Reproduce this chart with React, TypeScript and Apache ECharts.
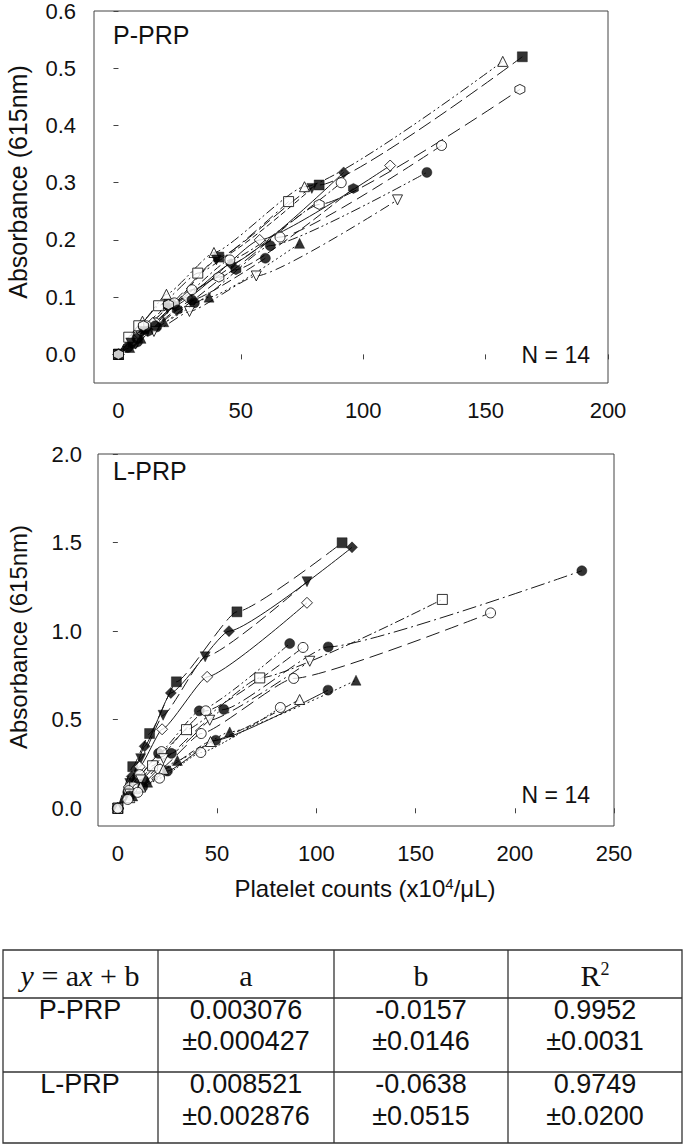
import React, { useEffect, useRef } from "react";
import * as echarts from "echarts";

// ---------- tick labels ----------
const P_X_TICKS = [0, 50, 100, 150, 200];
const P_Y_TICKS = [0, 0.1, 0.2, 0.3, 0.4, 0.5, 0.6];
const L_X_TICKS = [0, 50, 100, 150, 200, 250];
const L_Y_TICKS = [0, 0.5, 1.0, 1.5, 2.0];

// ---------- P-PRP data (14 donors, dilution series) ----------
const P_X = [
  [0, 10.3, 20.6, 41, 82, 165],
  [0, 9.8, 19.6, 39, 76, 157],
  [0, 7.5, 15, 30, 66, 132],
  [0, 7.8, 15.6, 31, 62, 126],
  [0, 7, 14, 28, 57.7, 111],
  [0, 7, 14.5, 29, 56.3, 114],
  [0, 5.8, 11.5, 23, 46, 92],
  [0, 5.7, 11.4, 22.8, 45.5, 91],
  [0, 6, 12, 24, 48, 96],
  [0, 4.2, 8.3, 16.4, 32.4, 69.5],
  [0, 4.6, 9.2, 18.5, 37, 74],
  [0, 3.8, 7.5, 15, 30, 60],
  [0, 5, 10, 20, 40, 79],
  [0, 10.2, 20.4, 41, 82, 164],
];
const P_Y = [
  [0, 0.045, 0.088, 0.17, 0.296, 0.52],
  [0, 0.058, 0.105, 0.178, 0.293, 0.512],
  [0, 0.03, 0.055, 0.113, 0.205, 0.365],
  [0, 0.022, 0.048, 0.09, 0.19, 0.318],
  [0, 0.03, 0.055, 0.1, 0.2, 0.33],
  [0, 0.018, 0.04, 0.075, 0.137, 0.27],
  [0, 0.02, 0.045, 0.085, 0.158, 0.318],
  [0, 0.025, 0.05, 0.09, 0.165, 0.3],
  [0, 0.018, 0.04, 0.078, 0.148, 0.29],
  [0, 0.03, 0.05, 0.085, 0.142, 0.267],
  [0, 0.012, 0.028, 0.057, 0.1, 0.194],
  [0, 0.012, 0.028, 0.05, 0.095, 0.168],
  [0, 0.02, 0.04, 0.08, 0.165, 0.29],
  [0, 0.05, 0.087, 0.135, 0.262, 0.463],
];

// ---------- L-PRP data ----------
const L_X = [
  [0, 7.5, 16, 29.5, 60, 113],
  [0, 7, 13.5, 26.7, 56, 118],
  [0, 6, 11.5, 22.8, 44, 95.3],
  [0, 5.5, 11, 22.3, 45, 95.3],
  [0, 13, 27, 53.4, 106, 233.8],
  [0, 8.5, 17.5, 34.6, 71.5, 163.5],
  [0, 10, 21, 42, 88.6, 187.8],
  [0, 5, 10, 20.5, 41, 86.6],
  [0, 5.5, 11, 22, 44.3, 93.3],
  [0, 6, 11.5, 23, 46.3, 96.7],
  [0, 7.5, 15, 30, 56.4, 120],
  [0, 6, 12.5, 25, 49.3, 105.9],
  [0, 6, 11.5, 23, 46.7, 91.6],
  [0, 5, 10, 21, 41.8, 81.9],
];
const L_Y = [
  [0, 0.235, 0.422, 0.714, 1.109, 1.499],
  [0, 0.18, 0.35, 0.651, 1.0, 1.473],
  [0, 0.14, 0.28, 0.525, 0.855, 1.279],
  [0, 0.12, 0.235, 0.446, 0.742, 1.16],
  [0, 0.16, 0.31, 0.558, 0.911, 1.341],
  [0, 0.12, 0.24, 0.444, 0.736, 1.179],
  [0, 0.11, 0.22, 0.422, 0.733, 1.103],
  [0, 0.09, 0.17, 0.31, 0.55, 0.93],
  [0, 0.1, 0.19, 0.32, 0.55, 0.908],
  [0, 0.08, 0.16, 0.28, 0.497, 0.83],
  [0, 0.07, 0.147, 0.27, 0.431, 0.723],
  [0, 0.07, 0.12, 0.21, 0.384, 0.667],
  [0, 0.06, 0.12, 0.22, 0.377, 0.614],
  [0, 0.05, 0.09, 0.17, 0.315, 0.569],
];

// ---------- table ----------
const TABLE_HEAD = ["a", "b"];
const TABLE_ROWS = ["P-PRP", "L-PRP"];
const TABLE_VALUES = [
  ["0.003076", "-0.0157", "0.9952"],
  ["0.008521", "-0.0638", "0.9749"],
];
const TABLE_ERRORS = [
  ["±0.000427", "±0.0146", "±0.0031"],
  ["±0.002876", "±0.0515", "±0.0200"],
];

// ---------- styles ----------
const HEX = "path://M0,-10L8.66,-5L8.66,5L0,10L-8.66,5L-8.66,-5Z";
const TRI_DOWN = "path://M-10,-8.66L10,-8.66L0,8.66Z";
const SQ = "rect";
const CI = "circle";
const TRI = "triangle";
const DI = "diamond";

const P_MARK = [SQ, TRI, CI, CI, DI, TRI_DOWN, DI, CI, HEX, SQ, TRI, CI, TRI_DOWN, HEX];
const P_FILL = [true, false, false, true, false, false, true, false, true, false, true, true, true, false];
const P_DASH: any[] = [
  [14, 5], [10, 3, 2, 3, 2, 3], [12, 6], [10, 3, 2, 3, 2, 3], "solid", [10, 4, 2, 4],
  "solid", [8, 3, 2, 3], [10, 4], [12, 4, 2, 4], [2, 3], [10, 4], [6, 3], [14, 6],
];
const L_MARK = [SQ, DI, TRI_DOWN, DI, CI, SQ, CI, CI, CI, TRI_DOWN, TRI, CI, TRI, CI];
const L_FILL = [true, true, true, false, true, false, false, true, false, false, true, true, false, false];
const L_DASH: any[] = [
  [14, 6], "solid", [12, 5], "solid", [14, 4, 2, 4], [10, 3, 2, 3], [14, 6],
  [8, 3, 2, 3, 2, 3], [10, 4], [12, 4, 2, 4], [2, 3], "solid", [6, 3], [2, 2],
];

const SANS = '"Liberation Sans", Arial, sans-serif';
const SERIF = '"Liberation Serif", "Times New Roman", serif';

function buildSeries(xs: number[][], ys: number[][], marks: string[], fills: boolean[], dashes: any[], idx: number) {
  const lines: any[] = [];
  const points: any[] = [];
  xs.forEach((xArr, i) => {
    const data = xArr.map((x, j) => [x, ys[i][j]]);
    lines.push({
      type: "line",
      xAxisIndex: idx,
      yAxisIndex: idx,
      data,
      smooth: 0.15,
      smoothMonotone: "x",
      showSymbol: false,
      symbol: "none",
      silent: true,
      z: 2,
      lineStyle: { color: "#1a1a1a", width: 1, type: dashes[i] },
    });
    points.push({
      type: "scatter",
      xAxisIndex: idx,
      yAxisIndex: idx,
      data,
      symbol: marks[i],
      symbolSize: marks[i] === DI ? 11 : 10,
      silent: true,
      z: 3,
      itemStyle: fills[i]
        ? { color: "#000", borderColor: "#000", borderWidth: 0.5 }
        : { color: "#fff", borderColor: "#000", borderWidth: 1 },
    });
  });
  return [...lines, ...points];
}

function axisX(gridIndex: number, min: number, max: number, ticks: number[]) {
  return {
    type: "value",
    gridIndex,
    min,
    max,
    axisLine: { show: false },
    splitLine: { show: false },
    axisTick: { show: true, customValues: ticks, length: 5, inside: false, lineStyle: { color: "#444", width: 1 } },
    axisLabel: {
      customValues: ticks,
      fontSize: 22,
      fontFamily: SANS,
      color: "#111",
      margin: 16,
      formatter: (v: number) => String(Math.round(v)),
    },
  };
}

function axisY(gridIndex: number, min: number, max: number, ticks: number[], margin: number) {
  return {
    type: "value",
    gridIndex,
    min,
    max,
    axisLine: { show: false },
    splitLine: { show: false },
    axisTick: { show: true, customValues: ticks, length: 5, inside: false, lineStyle: { color: "#444", width: 1 } },
    axisLabel: {
      customValues: ticks,
      fontSize: 22,
      fontFamily: SANS,
      color: "#111",
      margin,
      formatter: (v: number) => v.toFixed(1),
    },
  };
}

function txt(text: string, x: number, y: number, size: number, align: string, family = SANS, extra: any = {}) {
  return {
    type: "text",
    x,
    y,
    silent: true,
    ...extra,
    style: {
      text,
      fontSize: size,
      fontFamily: family,
      fill: "#111",
      align,
      verticalAlign: "middle",
      textAlign: align,
      textVerticalAlign: "middle",
      ...(extra.style || {}),
    },
  };
}

function richTxt(text: string, x: number, y: number, rich: any, size: number, family: string) {
  return {
    type: "text",
    x,
    y,
    silent: true,
    style: {
      text,
      align: "center",
      verticalAlign: "middle",
      textAlign: "center",
      textVerticalAlign: "middle",
      fill: "#111",
      fontSize: size,
      fontFamily: family,
      rich,
    },
  };
}

function tableGraphics() {
  const els: any[] = [];
  const stroke = { stroke: "#333", lineWidth: 1.3, fill: "none" };
  els.push({ type: "rect", shape: { x: 3, y: 950, width: 679, height: 193 }, style: stroke, silent: true });
  [998, 1072].forEach((y) => els.push({ type: "line", shape: { x1: 3, y1: y, x2: 682, y2: y }, style: stroke, silent: true }));
  [158, 334, 508].forEach((x) => els.push({ type: "line", shape: { x1: x, y1: 950, x2: x, y2: 1143 }, style: stroke, silent: true }));
  const colX = [80, 246, 421, 595];
  const HS = 30;
  els.push(
    richTxt(
      "{i|y}{n| = a}{i|x}{n| + b}",
      colX[0],
      975,
      {
        i: { fontSize: HS, fontFamily: SERIF, fontStyle: "italic", fill: "#111" },
        n: { fontSize: HS, fontFamily: SERIF, fill: "#111" },
      },
      HS,
      SERIF
    )
  );
  els.push(txt(TABLE_HEAD[0], colX[1], 975, HS, "center", SERIF));
  els.push(txt(TABLE_HEAD[1], colX[2], 975, HS, "center", SERIF));
  els.push(
    richTxt(
      "{n|R}{s|2}",
      colX[3],
      975,
      {
        n: { fontSize: HS, fontFamily: SERIF, fill: "#111", verticalAlign: "bottom" },
        s: { fontSize: 18, fontFamily: SERIF, fill: "#111", verticalAlign: "top" },
      },
      HS,
      SERIF
    )
  );
  const rowY = [
    [1010, 1041],
    [1084, 1116],
  ];
  const BS = 27;
  TABLE_ROWS.forEach((name, r) => {
    els.push(txt(name, colX[0], rowY[r][0], BS, "center"));
    TABLE_VALUES[r].forEach((v, c) => {
      els.push(txt(v, colX[c + 1], rowY[r][0], BS, "center"));
      els.push(txt(TABLE_ERRORS[r][c], colX[c + 1], rowY[r][1], BS, "center"));
    });
  });
  return els;
}

export default function App() {
  const ref = useRef<HTMLDivElement>(null);
  useEffect(() => {
    document.body.style.margin = "0";
    if (!ref.current) return;
    const chart = echarts.init(ref.current, null, { renderer: "svg", width: 685, height: 1147 });
    const option: any = {
      animation: false,
      backgroundColor: "#fff",
      grid: [
        { left: 94, top: 11, width: 514, height: 372, show: true, borderColor: "#444", borderWidth: 1, backgroundColor: "transparent" },
        { left: 98, top: 454, width: 516, height: 372, show: true, borderColor: "#444", borderWidth: 1, backgroundColor: "transparent" },
      ],
      xAxis: [axisX(0, -10, 200, P_X_TICKS), axisX(1, -10, 250, L_X_TICKS)],
      yAxis: [axisY(0, -0.05, 0.6, P_Y_TICKS, 18), axisY(1, -0.1, 2.0, L_Y_TICKS, 16)],
      series: [
        ...buildSeries(P_X, P_Y, P_MARK, P_FILL, P_DASH, 0),
        ...buildSeries(L_X, L_Y, L_MARK, L_FILL, L_DASH, 1),
      ],
      graphic: [
        txt("P-PRP", 113, 35, 25, "left"),
        txt("N = 14", 590, 355, 23, "right"),
        txt("L-PRP", 113, 471, 25, "left"),
        txt("N = 14", 590, 795, 23, "right"),
        txt("Absorbance (615nm)", 18, 182, 25, "center", SANS, { rotation: Math.PI / 2 }),
        txt("Absorbance (615nm)", 18, 637, 24, "center", SANS, { rotation: Math.PI / 2 }),
        richTxt(
          "{n|Platelet counts (x10}{s|4}{n|/μL)}",
          365,
          888,
          {
            n: { fontSize: 24, fontFamily: SANS, fill: "#111", verticalAlign: "bottom" },
            s: { fontSize: 15, fontFamily: SANS, fill: "#111", verticalAlign: "top" },
          },
          24,
          SANS
        ),
        ...tableGraphics(),
      ],
    };
    chart.setOption(option);
    return () => chart.dispose();
  }, []);
  return <div ref={ref} style={{ width: 685, height: 1147 }} />;
}
